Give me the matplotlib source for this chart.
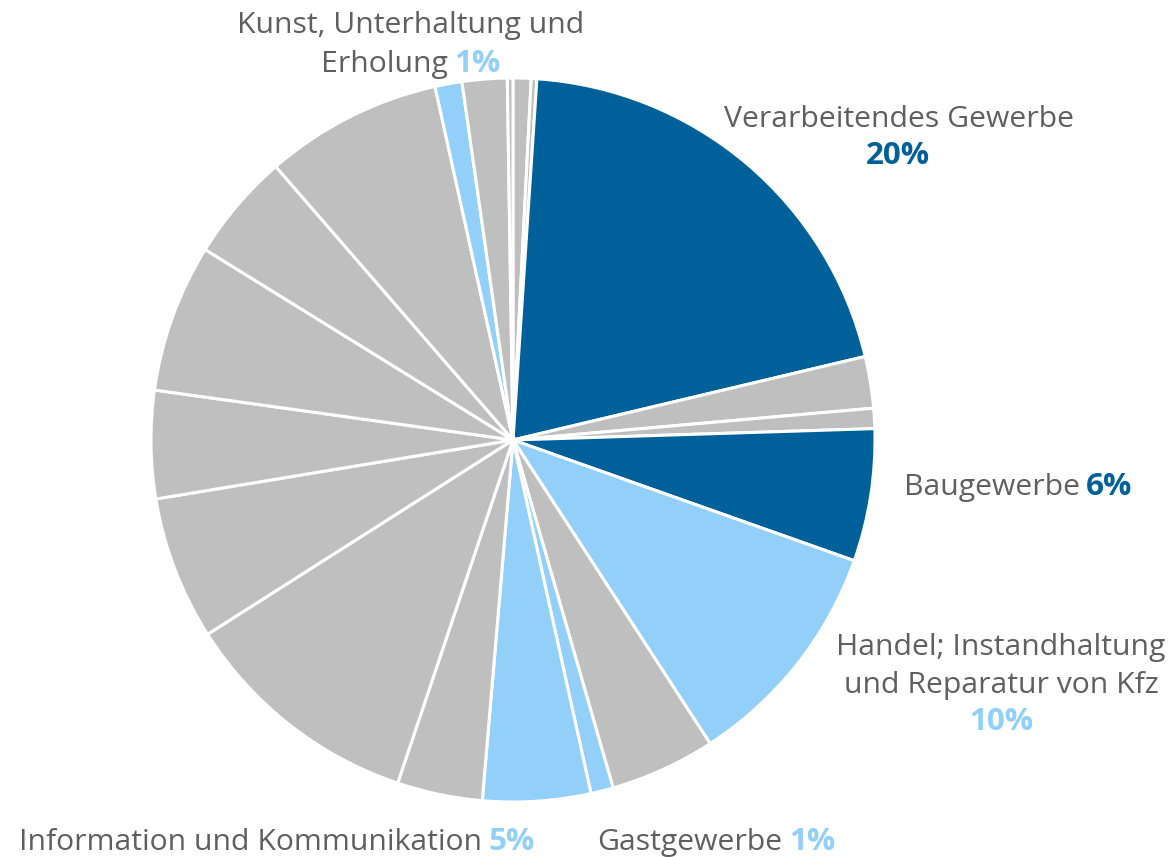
import matplotlib.pyplot as plt

# Anteile der Wirtschaftsbereiche (Abschnitte A-T), im Uhrzeigersinn ab 12 Uhr
sectors = [
    "Land- und Forstwirtschaft", "Bergbau", "Verarbeitendes Gewerbe",
    "Energieversorgung", "Wasserversorgung", "Baugewerbe",
    "Handel; Instandhaltung und Reparatur von Kfz", "Verkehr und Lagerei",
    "Gastgewerbe", "Information und Kommunikation", "Finanzdienstleistungen",
    "Grundstücks- und Wohnungswesen", "Freiberufliche Dienstleistungen",
    "Sonstige wirtschaftliche Dienstleistungen", "Öffentliche Verwaltung",
    "Erziehung und Unterricht", "Gesundheits- und Sozialwesen",
    "Kunst, Unterhaltung und Erholung", "Sonstige Dienstleistungen",
    "Private Haushalte",
]
shares = [0.8, 0.25, 20.2, 2.3, 0.9, 5.9, 10.4, 4.7, 1.0, 4.8,
          3.8, 10.8, 6.4, 4.8, 6.6, 4.8, 7.9, 1.2, 2.0, 0.25]
highlight = {
    "Verarbeitendes Gewerbe": "dark",
    "Baugewerbe": "dark",
    "Handel; Instandhaltung und Reparatur von Kfz": "light",
    "Gastgewerbe": "light",
    "Information und Kommunikation": "light",
    "Kunst, Unterhaltung und Erholung": "light",
}

DARK = "#00619a"
LIGHT = "#92d0fa"
GREY = "#bfbfbf"
TEXT = "#5f5f5f"
palette = {"dark": DARK, "light": LIGHT}
colors = [palette.get(highlight.get(s), GREY) for s in sectors]

W, H = 1174, 857
fig = plt.figure(figsize=(W / 100, H / 100), dpi=100)
plt.rcParams["font.family"] = ["Open Sans", "DejaVu Sans"]

cx, cy, r = 513, 440, 362
ax = fig.add_axes([(cx - r) / W, (H - cy - r) / H, 2 * r / W, 2 * r / H])
ax.pie(shares, colors=colors, startangle=90, counterclock=False, radius=1,
       wedgeprops=dict(edgecolor="white", linewidth=2.2))
ax.set_xlim(-1, 1)
ax.set_ylim(-1, 1)
ax.axis("off")

FS = 21.7
renderer = fig.canvas.get_renderer()


def fig_xy(px, py):
    return px / W, 1 - py / H


def label_line(px, py, parts):
    """Draw a centred line made of (text, colour, weight) parts."""
    texts = []
    for s, c, w in parts:
        t = fig.text(0, 0, s, color=c, fontweight=w,
                     fontsize=FS * (1.04 if w == "bold" else 1.0),
                     va="baseline", ha="left")
        texts.append(t)
    widths = [t.get_window_extent(renderer).width for t in texts]
    gap = FS * 0.3
    total = sum(widths) + gap * (len(texts) - 1)
    x = px - total / 2
    for t, w in zip(texts, widths):
        t.set_position(fig_xy(x, py))
        x += w + gap


label_line(411, 33, [("Kunst, Unterhaltung und", TEXT, "normal")])
label_line(411, 72, [("Erholung", TEXT, "normal"), ("1%", LIGHT, "bold")])
label_line(899, 127, [("Verarbeitendes Gewerbe", TEXT, "normal")])
label_line(898, 164, [("20%", DARK, "bold")])
label_line(1018, 495, [("Baugewerbe", TEXT, "normal"), ("6%", DARK, "bold")])
label_line(1001, 655, [("Handel; Instandhaltung", TEXT, "normal")])
label_line(1001, 693, [("und Reparatur von Kfz", TEXT, "normal")])
label_line(1001, 730, [("10%", LIGHT, "bold")])
label_line(277, 850, [("Information und Kommunikation", TEXT, "normal"),
                      ("5%", LIGHT, "bold")])
label_line(716, 850, [("Gastgewerbe", TEXT, "normal"), ("1%", LIGHT, "bold")])

fig.savefig("out.png", dpi=100)
